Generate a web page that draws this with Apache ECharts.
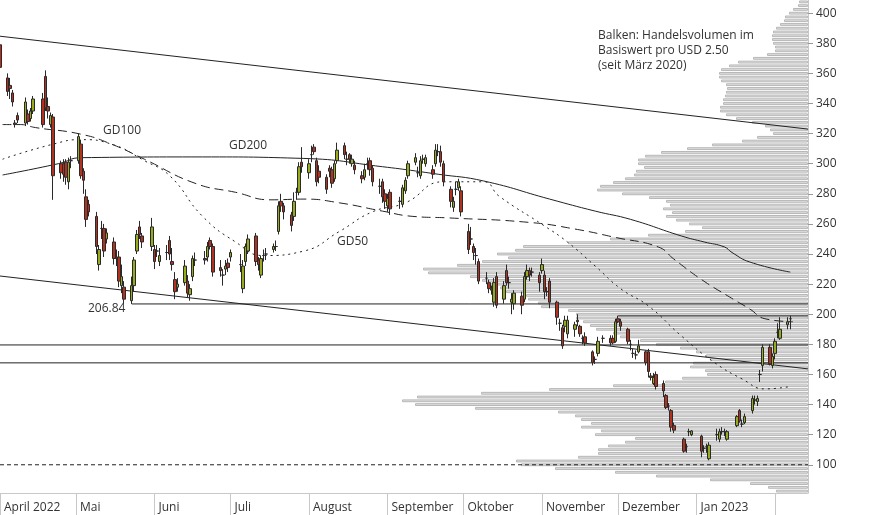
<!DOCTYPE html>
<html><head><meta charset="utf-8">
<script src="https://cdn.jsdelivr.net/npm/echarts@6/dist/echarts.min.js"></script>
<style>html,body{margin:0;padding:0;background:#fff}#c{width:874px;height:515px}</style>
</head><body><div id="c"></div>
<script>
// OHLC as [open, close, low, high], one per trading day from 2022-04-01
const ohlc = [
[379,364,362,384],[357,348,345,360],[352,350,343,357],[347,341,338,349],[327,326,324,329],
[332,329,327,334],[327,341,325,344],[333,328,326,336],[330,335,328,337],[335,343,333,345],
[343,326,324,347],[358,337,335,362],[338,335,330,344],[326,332,324,334],[331,292,276,333],
[300,294,290,302],[300,293,288,303],[301,291,286,303],[288,301,283,304],[302,302,297,305],
[302,318,300,320],[313,292,290,316],[295,289,280,297],[278,263,258,283],[273,268,265,276],
[265,245,240,268],[233,243,229,246],[257,257,250,262],[257,242,238,260],[250,254,247,257],
[248,237,233,251],[238,237,232,243],[238,222,218,242],[219,225,214,233],[218,210,207,222],
[209,219,206.84,225],[219,236,215,238],[242,253,240,256],[258,253,250,262],[252,248,244,254],
[245,258,242,264],[243,235,230,246],[242,242,238,246],[235,239,232,244],[241,241,236,246],
[249,240,236,252],[235,233,229,244],[223,215,210,228],[218,220,215,224],[221,232,219,236],
[222,214,211,226],[213,217,209,220],[225,237,222,239],[236,236,232,241],[237,236,233,242],
[238,245,235,248],[249,245,243,251],[245,228,225,247],[231,229,225,236],[226,226,219,230],
[230,232,226,236],[234,231,228,237],[238,241,235,243],
[233,233,228,240],[217,232,214,236],[235,245,232,247],[242,250,240,253],[252,235,232,254],
[236,233,229,238],[226,237,224,239],[239,239,235,243],[240,240,236,244],[243,245,241,247],
[245,245,242,249],[255,272,253,275],[275,272,268,280],[272,268,263,274],[266,259,255,268],
[265,275,262,281],[281,281,276,284],[281,298,279,301],[301,298,294,311],[294,300,290,303],
[306,306,301,312],[311,308,306,313],[302,288,285,304],[295,291,287,299],[291,283,280,293],
[297,295,291,299],[296,287,284,298],[290,300,288,302],[302,309,300,314],[312,306,303,314],
[303,303,299,308],[306,303,300,307],[300,303,298,306],[299,296,293,302],[292,290,287,295],[291,296,289,300],
[300,300,296,304],[302,296,292,304],[297,288,285,299],[285,285,280,290],[288,278,274,290],
[280,275,270,283],[272,277,268,280],[281,270,266,283],[275,275,270,278],[273,284,271,286],
[282,289,280,291],[292,300,290,302],[301,304,299,307],[294,294,291,298],[292,302,290,305],
[303,303,300,306],[300,304,298,306],[296,293,290,299],[300,309,298,313],[308,308,305,313],[308,301,298,312],
[300,288,285,302],[283,275,271,285],[271,275,268,278],[283,283,279,288],[284,288,282,290],
[282,268,265,285],[255,243,240,260],[250,250,246,258],[245,241,236,247],[239,239,233,244],
[235,222,220,237],[224,224,220,228],[221,217,214,223],[217,216,213,219],[208,221,205,224],
[225,206,204,228],[210,219,207,222],[229,221,219,233],[221,221,217,225],[208,210,200,214],
[207,214,203,216],[212,206,200,215],[210,225,208,228],[225,229,223,233],[229,226,222,231],
[228,228,225,231],[226,221,215,228],[229,233,227,237],[226,215,210,229],[215,215,212,218],
[222,208,204,224],[208,198,193,209],[194,194,189,197],[191,179,177,193],[192,196,188,199],
[187,196,184,199],[190,193,185,195],[196,195,192,200],[192,187,185,193],[184,184,180,186],
[185,181,179,188],[175,168,166,176],[170,170,167,172],[174,182,172,185],[184,184,181,186],
[184,181,179,186],[184,181,180,186],[182,195,181,197],[197,195,194,199],[195,192,189,197],
[190,182,180,191],[180,180,176,183],[174,174,171,177],[173,173,170,176],[175,179,174,183],
[175,168,166,176],[175,162,158,177],[159,158,156,161],[154,158,153,161],[160,152,150,162],
[154,149,145,156],[146,138,137,147],[139,139,136,141],[136,125,122,137],[126,123,121,128],
[117,109,108,118],[112,112,108,114],[122,122,119,124],[120,122.5,119,123],[119,109,105,120],
[111,111,108,113],[112,112,108,114],[104,113,103,115],[120,120,116,124],[117,122,115,124],
[122,122,120,125],[122,122,119,124],[117,122,116,123],[126,132,125,133],[136,129,128,137],
[127,127,125,130],[128,132,127,134],[136,144,134,146],[143,143,140,146],[142,144,139,146],
[160,160,155,163],[166,178,162,180],[178,167,166,180],[166,172,164,174],[174,182,170,184],
[188,188,184,194],[184,190,183,198],[193,195,190,198],[197,197,190,199]
];
const holidays = ['2022-04-15','2022-05-30','2022-06-20','2022-07-04','2022-09-05','2022-11-24','2022-12-26','2023-01-02','2023-01-16'];

const gd50 = [['2022-04-02',303],['2022-04-22',313],['2022-05-03',316],['2022-05-15',313],['2022-05-28',302],['2022-06-07',292],['2022-06-20',265],['2022-07-03',248],['2022-07-14',239],['2022-07-30',242],['2022-08-13',255],['2022-08-26',268],['2022-09-08',274],['2022-09-23',288],['2022-10-09',288],['2022-10-15',278.5],['2022-11-02',258.6],['2022-11-11',248],['2022-11-22',232],['2022-12-02',217],['2022-12-13',205.5],['2022-12-26',185.6],['2023-01-08',168],['2023-01-19',157],['2023-01-28',150.4],['2023-02-07',152]];
const gd100 = [['2022-04-02',326],['2022-04-09',326],['2022-04-15',324],['2022-05-03',319.6],['2022-05-15',313],['2022-05-28',303],['2022-06-17',287],['2022-07-03',281],['2022-07-17',276],['2022-07-30',276.5],['2022-08-13',274],['2022-08-30',268.5],['2022-09-11',265],['2022-09-25',264],['2022-10-27',261],['2022-11-14',256.6],['2022-11-30',251],['2022-12-17',244.6],['2022-12-23',236.7],['2023-01-03',223],['2023-01-14',211.5],['2023-01-22',203.5],['2023-01-28',197],['2023-02-08',195]];
const gd200 = [['2022-04-02',292.5],['2022-04-24',300],['2022-05-03',304],['2022-06-20',304.5],['2022-07-30',303.5],['2022-08-30',298],['2022-09-21',293],['2022-10-09',288.5],['2022-11-04',276.5],['2022-11-22',268.5],['2022-12-06',263],['2022-12-26',252],['2023-01-04',248],['2023-01-12',244.7],['2023-01-15',241],['2023-01-22',234.7],['2023-02-07',228]];
const trendUpper = [['2022-04-01',384.7],['2023-02-14',323]];
const trendLower = [['2022-04-01',225.4],['2023-02-14',163.7]];
const hLines = [
 {from:'2022-05-23', value:206.84},
 {from:'2022-12-01', value:198.9},
 {from:'2022-04-01', value:179.6},
 {from:'2022-04-01', value:167.7}
];
const supportDotted = 100;
// volume profile, bar width in relative units, levels from 82.5 upward by 2.5
const volume = [32,40,58,98,152,193,253,287,292,230,210,210,200,183,173,213,207,227,217,227,233,250,333,393,406,391,327,259,195,143,126,101,103,118,115,98,102,112,128,152,168,188,195,212,218,225,232,232,240,267,270,280,282,302,308,318,326,338,380,385,351,326,300,311,293,285,240,198,160,123,106,119,132,142,136,145,138,142,159,186,211,208,195,183,174,172,164,170,170,163,147,121,96,66,51,35,38,43,56,72,82,88,88,85,85,83,82,81,82,87,89,89,87,79,70,55,41,33,33,35,36,36,35,32,28,24,23,19,15,10,9];
const yTicks = [100,120,140,160,180,200,220,240,260,280,300,320,340,360,380,400];
const monthNames = ['Jan','Feb','März','April','Mai','Juni','Juli','August','September','Oktober','November','Dezember'];

const xMin = '2022-04-01', xMax = '2023-02-14';
const yMin = 81.25, yMax = 408.75;

const dates = [];
{ let d = new Date(Date.UTC(2022,3,1));
  while (dates.length < ohlc.length) {
    const s = d.toISOString().slice(0,10), wd = d.getUTCDay();
    if (wd !== 0 && wd !== 6 && !holidays.includes(s)) dates.push(s);
    d = new Date(d.getTime() + 86400000);
  } }
const ts = s => Date.parse(s + 'T00:00:00Z');
const candleData = ohlc.map((v,i)=>[ts(dates[i]), v[0], v[1], v[2], v[3]]);
const volLevels = volume.map((_,i)=>(82.5+2.5*i).toFixed(2));
const tm = a => a.map(p=>[ts(p[0]), p[1]]);
const monthLabel = v => { const d = new Date(v); if (d.getUTCDate() !== 1) return '';
  const m = d.getUTCMonth(); if (m === 1) return '';
  return (m === 0 || m === 3) ? monthNames[m] + ' ' + d.getUTCFullYear() : monthNames[m]; };

const font = 'Open Sans';
const grid = {left:0, right:66, top:0, bottom:22};
const lineS = (data, type, extra) => Object.assign({type:'line', xAxisIndex:0, yAxisIndex:0, data:tm(data), symbol:'none', silent:true, z:3,
  lineStyle:{color:'#222', width:1, type:type}}, extra||{});

const series = [
  {type:'bar', xAxisIndex:1, yAxisIndex:1, data:volume, barWidth:'75%', silent:true, z:1,
   itemStyle:{color:'#dedede', borderColor:'#b8b8b8', borderWidth:1}},
  lineS(trendUpper,'solid'),
  lineS(trendLower,'solid'),
  lineS(gd200,'solid',{smooth:true}),
  lineS(gd100,[9,5],{smooth:true}),
  lineS(gd50,[2,4],{smooth:true}),
  lineS([[xMin,supportDotted],[xMax,supportDotted]],[4,3]),
];
hLines.forEach(h=>series.push(lineS([[h.from,h.value],[xMax,h.value]],'solid')));
series.push({type:'candlestick', xAxisIndex:0, yAxisIndex:0, data:candleData, barWidth:3, z:5, silent:true,
  itemStyle:{color:'#98ab1e', color0:'#b3321f', borderColor:'#2a2a2a', borderColor0:'#2a2a2a', borderWidth:1}});

const chart = echarts.init(document.getElementById('c'), null, {renderer:'canvas'});
chart.setOption({
  animation:false,
  textStyle:{fontFamily:font},
  grid:[grid, grid],
  xAxis:[
    {type:'time', gridIndex:0, min:ts(xMin), max:ts(xMax), minInterval:28*86400000, maxInterval:31*86400000,
     axisLine:{show:true, lineStyle:{color:'#c8c8c8'}},
     axisTick:{show:true, length:22, lineStyle:{color:'#c8c8c8'}},
     axisLabel:{formatter:monthLabel, align:'left', margin:9, padding:[0,0,0,4], color:'#333', fontSize:12, fontFamily:font, showMinLabel:true, hideOverlap:false},
     splitLine:{show:false}},
    {type:'value', gridIndex:1, min:0, max:808, inverse:true, show:false}
  ],
  yAxis:[
    {type:'value', gridIndex:0, position:'right', min:yMin, max:yMax,
     axisLine:{show:true, lineStyle:{color:'#c8c8c8'}},
     axisTick:{show:true, length:5, lineStyle:{color:'#999'}, customValues:yTicks},
     axisLabel:{customValues:yTicks, color:'#333', fontSize:12, margin:8, fontFamily:font},
     splitLine:{show:false}},
    {type:'category', gridIndex:1, data:volLevels, show:false, boundaryGap:true}
  ],
  series:series,
  graphic:[
    {type:'text', left:598, top:28, style:{text:'Balken: Handelsvolumen im\nBasiswert pro USD 2.50\n(seit März 2020)', font:'12px "Open Sans"', fill:'#333', lineHeight:15}},
    {type:'text', left:103, top:125, style:{text:'GD100', font:'12px "Open Sans"', fill:'#333'}},
    {type:'text', left:229, top:140, style:{text:'GD200', font:'12px "Open Sans"', fill:'#333'}},
    {type:'text', left:337, top:236, style:{text:'GD50', font:'12px "Open Sans"', fill:'#333'}},
    {type:'text', left:88, top:303, style:{text:'206.84', font:'12px "Open Sans"', fill:'#333'}}
  ]
});
</script></body></html>
